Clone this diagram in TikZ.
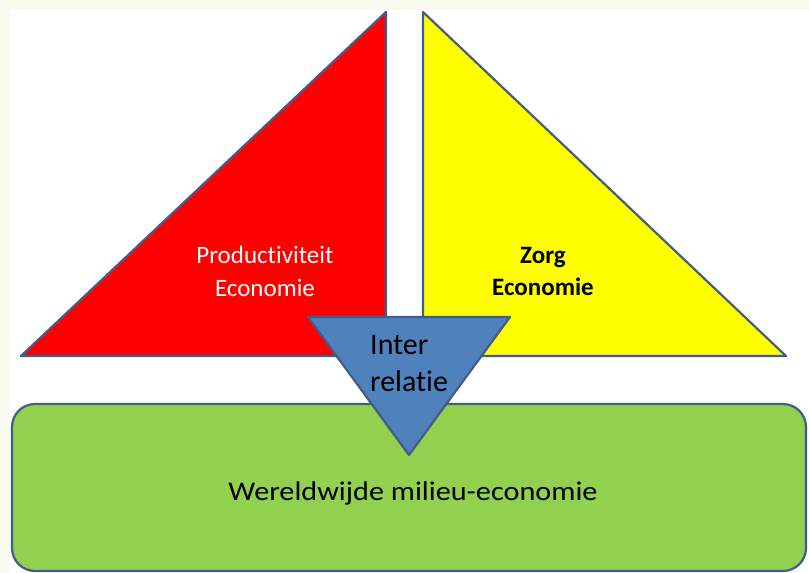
\documentclass[tikz,border=0pt]{standalone}
\usepackage{fontspec}
\setmainfont[Ligatures={NoCommon}]{Carlito}
\newfontfamily\wideCarlito[FakeStretch=1.12,Ligatures={NoCommon}]{Carlito}
\usepackage{xcolor}
\usepackage{tikz}
\definecolor{prodred}{HTML}{FF0000}
\definecolor{zorgyellow}{HTML}{FFFF00}
\definecolor{milieugreen}{HTML}{92D050}
\definecolor{interblue}{HTML}{4F81BD}
\definecolor{rim}{HTML}{3F5E8A}
\definecolor{paper}{HTML}{F8FBEE}
\tikzstyle{part}=[draw=rim,line width=2.2pt,line join=round]
\tikzstyle{lbl}=[inner sep=0pt,align=center,anchor=base]
\begin{document}
\begin{tikzpicture}[x=1pt,y=-1pt]
	\useasboundingbox (0,0) rectangle (809,573);
	\fill[paper] (0,0) rectangle (809,573);
	\fill[white] (10,10) rectangle (809,573);
	\draw[part,fill=prodred]    (386,12) -- (386,356) -- (21,356) -- cycle;
	\draw[part,fill=zorgyellow] (423,12) -- (423,356) -- (786,356) -- cycle;
	\draw[part,fill=milieugreen,rounded corners=23pt] (12,404) rectangle (806,571);
	\draw[part,fill=interblue]  (308,317) -- (510,317) -- (409,455) -- cycle;
	\node[lbl,text=white,font=\fontsize{25}{33}\selectfont] (prod) at (265,296)
		{Productiviteit\\Economie};
	\node[lbl,font=\fontsize{25}{32}\selectfont\bfseries] (zorg) at (543,295)
		{Zorg\\Economie};
	\node[lbl,align=left,anchor=base west,font=\fontsize{30}{37}\selectfont] (inter) at (370,391)
		{Inter\\relatie};
	\node[lbl,font=\wideCarlito\fontsize{27}{32}\selectfont] (milieu) at (413,500)
		{Wereldwijde milieu-economie};
\end{tikzpicture}
\end{document}
